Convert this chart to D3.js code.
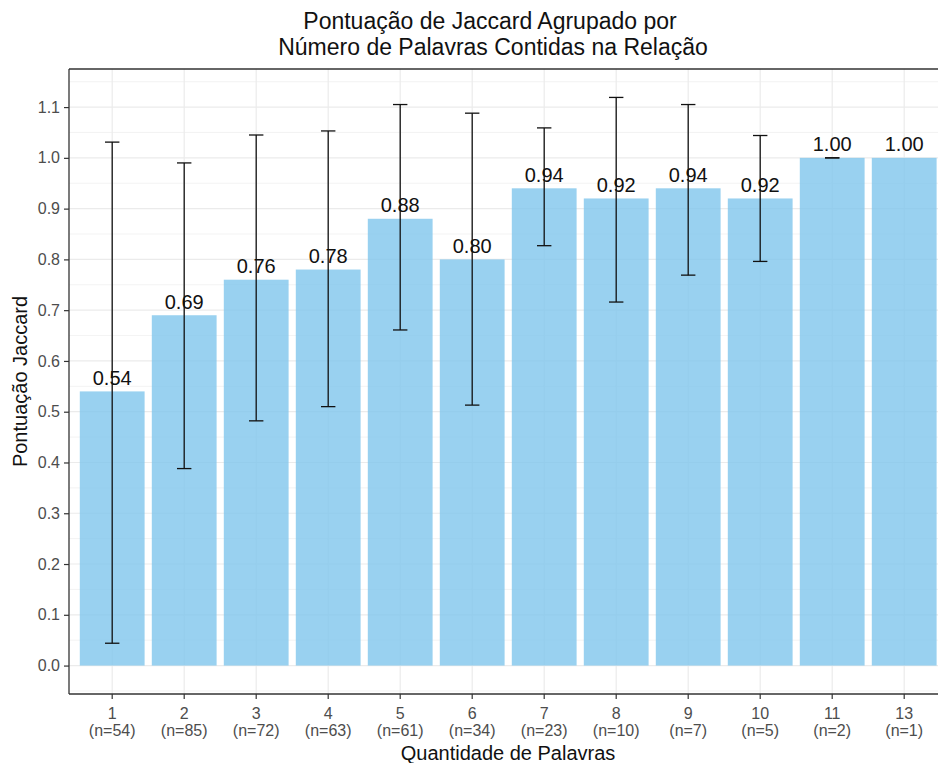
<!DOCTYPE html>
<html>
<head>
<meta charset="utf-8">
<script src="https://cdn.jsdelivr.net/npm/d3@7/dist/d3.min.js"></script>
<style>
  html, body { margin: 0; padding: 0; background: #fff; }
  svg { display: block; font-family: "Liberation Sans", Arial, sans-serif; }
</style>
</head>
<body>
<svg id="chart" width="938" height="763"></svg>
<script>
// Number of words in the relation
const categories = ["1", "2", "3", "4", "5", "6", "7", "8", "9", "10", "11", "13"];
// Sample size per group
const counts = [54, 85, 72, 63, 61, 34, 23, 10, 7, 5, 2, 1];
// Mean Jaccard score per group
const means = [0.54, 0.69, 0.76, 0.78, 0.88, 0.80, 0.94, 0.92, 0.94, 0.92, 1.00, 1.00];
// Error bar limits (mean ± sd); null where sd is undefined
const lower = [0.044, 0.388, 0.482, 0.510, 0.661, 0.513, 0.827, 0.716, 0.769, 0.796, 1.000, null];
const upper = [1.031, 0.990, 1.045, 1.053, 1.105, 1.088, 1.059, 1.119, 1.105, 1.044, 1.000, null];
// Y axis ticks
const yTicks = [0.0, 0.1, 0.2, 0.3, 0.4, 0.5, 0.6, 0.7, 0.8, 0.9, 1.0, 1.1];
const yMinor = [-0.05, 0.05, 0.15, 0.25, 0.35, 0.45, 0.55, 0.65, 0.75, 0.85, 0.95, 1.05, 1.15];

const data = categories.map((c, i) => ({
  cat: c, n: counts[i], mean: means[i], lo: lower[i], hi: upper[i]
}));

const svg = d3.select("#chart");
const panel = { left: 69, top: 69, right: 947.4, bottom: 694 };

const x = d3.scaleBand()
  .domain(categories)
  .range([panel.left, panel.right])
  .paddingInner(0.1)
  .paddingOuter(0.15);

const y = d3.scaleLinear()
  .domain([-0.056, 1.175])
  .range([panel.bottom, panel.top]);

// Panel background grid
const grid = svg.append("g");
grid.selectAll("line.minor").data(yMinor).join("line")
  .attr("x1", panel.left).attr("x2", panel.right)
  .attr("y1", d => y(d)).attr("y2", d => y(d))
  .attr("stroke", "#ebebeb").attr("stroke-width", 0.6);
grid.selectAll("line.major").data(yTicks).join("line")
  .attr("x1", panel.left).attr("x2", panel.right)
  .attr("y1", d => y(d)).attr("y2", d => y(d))
  .attr("stroke", "#ebebeb").attr("stroke-width", 1.2);
grid.selectAll("line.vert").data(categories).join("line")
  .attr("x1", d => x(d) + x.bandwidth() / 2).attr("x2", d => x(d) + x.bandwidth() / 2)
  .attr("y1", panel.top).attr("y2", panel.bottom)
  .attr("stroke", "#ebebeb").attr("stroke-width", 1.2);

// Bars
svg.append("g").selectAll("rect").data(data).join("rect")
  .attr("x", d => x(d.cat))
  .attr("width", x.bandwidth())
  .attr("y", d => y(d.mean))
  .attr("height", d => y(0) - y(d.mean))
  .attr("fill", "#7fc6ec")
  .attr("fill-opacity", 0.8);

// Error bars
const eb = svg.append("g").attr("stroke", "#111").attr("stroke-width", 1.3);
const withErr = data.filter(d => d.lo !== null);
const capW = x.bandwidth() * 0.2 / 0.9;
withErr.forEach(d => {
  const cx = x(d.cat) + x.bandwidth() / 2;
  eb.append("line").attr("x1", cx).attr("x2", cx).attr("y1", y(d.lo)).attr("y2", y(d.hi));
  eb.append("line").attr("x1", cx - capW / 2).attr("x2", cx + capW / 2).attr("y1", y(d.lo)).attr("y2", y(d.lo));
  eb.append("line").attr("x1", cx - capW / 2).attr("x2", cx + capW / 2).attr("y1", y(d.hi)).attr("y2", y(d.hi));
});

// Value labels
svg.append("g").selectAll("text").data(data).join("text")
  .attr("x", d => x(d.cat) + x.bandwidth() / 2)
  .attr("y", d => y(d.mean) - 6.5)
  .attr("text-anchor", "middle")
  .attr("font-size", 20)
  .attr("fill", "#111")
  .text(d => d3.format(".2f")(d.mean));

// Panel border (top) and axis lines
svg.append("line").attr("x1", panel.left).attr("x2", panel.right)
  .attr("y1", panel.top).attr("y2", panel.top).attr("stroke", "#333").attr("stroke-width", 1.3);

const yAxis = d3.axisLeft(y).tickValues(yTicks).tickFormat(d3.format(".1f")).tickSize(5).tickPadding(4);
const gy = svg.append("g").attr("transform", `translate(${panel.left},0)`).call(yAxis);
gy.select(".domain").remove();
gy.selectAll(".tick line").attr("stroke", "#333").attr("stroke-width", 1.2);
gy.selectAll(".tick text").attr("font-size", 16).attr("fill", "#4d4d4d")
  .attr("font-family", "Liberation Sans, Arial, sans-serif");
svg.append("line").attr("x1", panel.left).attr("x2", panel.left)
  .attr("y1", panel.top).attr("y2", panel.bottom).attr("stroke", "#333").attr("stroke-width", 1.3);

const xAxis = d3.axisBottom(x).tickSize(5).tickPadding(4).tickFormat(() => "");
const gx = svg.append("g").attr("transform", `translate(0,${panel.bottom})`).call(xAxis);
gx.select(".domain").remove();
gx.selectAll(".tick line").attr("stroke", "#333").attr("stroke-width", 1.2);
svg.append("line").attr("x1", panel.left).attr("x2", panel.right)
  .attr("y1", panel.bottom).attr("y2", panel.bottom).attr("stroke", "#333").attr("stroke-width", 1.3);

// Two-line category labels
const xl = svg.append("g").attr("font-size", 16).attr("fill", "#4d4d4d").attr("text-anchor", "middle");
xl.selectAll("text.c").data(data).join("text")
  .attr("x", d => x(d.cat) + x.bandwidth() / 2).attr("y", 718.5)
  .text(d => d.cat);
xl.selectAll("text.n").data(data).join("text")
  .attr("x", d => x(d.cat) + x.bandwidth() / 2).attr("y", 736)
  .text(d => `(n=${d.n})`);

// Axis titles
svg.append("text").attr("x", 508).attr("y", 760)
  .attr("text-anchor", "middle").attr("font-size", 20).attr("fill", "#111")
  .text("Quantidade de Palavras");
svg.append("text")
  .attr("transform", `translate(27,${(panel.top + panel.bottom) / 2}) rotate(-90)`)
  .attr("text-anchor", "middle").attr("font-size", 20).attr("fill", "#111")
  .text("Pontuação Jaccard");

// Title
const title = svg.append("text").attr("text-anchor", "middle").attr("font-size", 23).attr("fill", "#111");
title.append("tspan").attr("x", 490).attr("y", 29).text("Pontuação de Jaccard Agrupado por");
title.append("tspan").attr("x", 493).attr("y", 55).text("Número de Palavras Contidas na Relação");
</script>
</body>
</html>
